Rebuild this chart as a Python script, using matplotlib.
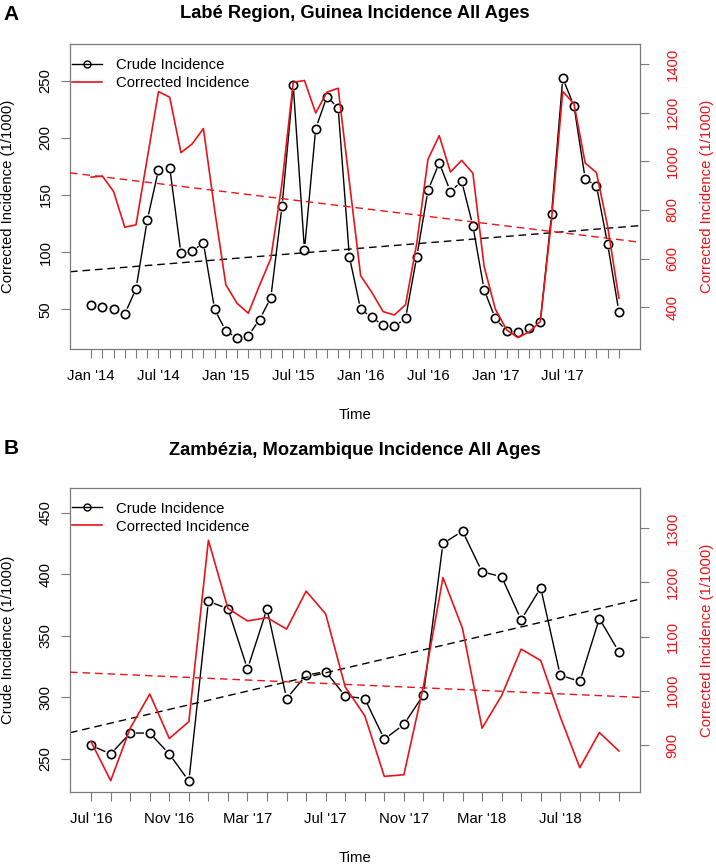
import numpy as np
import matplotlib
matplotlib.use("Agg")
import matplotlib.pyplot as plt
from matplotlib.lines import Line2D

plt.rcParams['font.family'] = ['Liberation Sans', 'DejaVu Sans']

# Panel A: Labe Region, Guinea (monthly, Jan 2014 - Dec 2017)
crude_a = [54, 52, 50, 46, 68, 128, 172, 174, 99, 101, 108, 50,
           31, 25, 27, 41, 60, 140, 246, 102, 208, 236, 226, 96,
           50, 43, 36, 35, 42, 96, 154, 178, 153, 162, 123, 67,
           42, 31, 30, 34, 39, 133, 252, 228, 164, 158, 107, 48]
corrected_a = [935, 940, 876, 729, 739, 1013, 1287, 1264, 1036, 1072, 1135, 800,
               492, 416, 375, 490, 600, 910, 1325, 1333, 1199, 1285, 1301, 915,
               530, 461, 382, 368, 410, 663, 1009, 1106, 956, 1004, 951, 567,
               392, 307, 275, 298, 341, 759, 1288, 1237, 993, 954, 732, 437]
labels_a = ["Jan '14", "Jul '14", "Jan '15", "Jul '15",
            "Jan '16", "Jul '16", "Jan '17", "Jul '17"]

# Panel B: Zambezia, Mozambique (monthly, Jul 2016 - Oct 2018)
crude_b = [261, 254, 271, 271, 254, 232, 378, 372, 323, 372, 299, 318, 321, 301,
           299, 266, 278, 302, 425, 435, 402, 398, 363, 389, 318, 313, 364, 337]
corrected_b = [906, 834, 931, 994, 912, 943, 1278, 1152, 1129, 1135, 1114, 1184, 1142, 1007,
               954, 842, 845, 1008, 1209, 1115, 931, 991, 1077, 1056, 952, 858, 923, 889]
labels_b = ["Jul '16", "Nov '16", "Mar '17", "Jul '17", "Nov '17", "Mar '18", "Jul '18"]

RED = '#e8141a'
GREY = '#7a7a7a'
FS = 10.7
W, H = 716, 864

fig = plt.figure(figsize=(W / 100, H / 100), dpi=100)


def type_b(ax, x, y, gap=6.5, **kw):
    # R style type="b": points joined by lines that stop short of the points
    pts = ax.transData.transform(np.column_stack([x, y]))
    inv = ax.transData.inverted()
    xs, ys = [], []
    for p0, p1 in zip(pts[:-1], pts[1:]):
        d = p1 - p0
        L = np.hypot(*d)
        if L <= 2 * gap:
            continue
        a = inv.transform(p0 + d / L * gap)
        b = inv.transform(p1 - d / L * gap)
        xs += [a[0], b[0], np.nan]
        ys += [a[1], b[1], np.nan]
    ax.plot(xs, ys, color='black', lw=1.0, **kw)
    ax.plot(x, y, 'o', mfc='none', mec='black', mew=1.2, ms=6)


def panel(top, bottom, crude, corr, step, labels, ylim_l, ylim_r, yt_l, yt_r,
          title, letter, letter_y, title_y, time_y, left_label):
    ax = fig.add_axes([70 / W, 1 - bottom / H, 570 / W, (bottom - top) / H])
    n = len(crude)
    x = np.arange(n)
    xlim = (-0.04 * (n - 1), 1.04 * (n - 1))
    ax.set_xlim(xlim)
    ax.set_ylim(ylim_l)
    ax2 = ax.twinx()
    ax2.set_ylim(ylim_r)
    ax2.set_xlim(xlim)

    type_b(ax, x, crude)
    xx = np.array(xlim)
    k, c = np.polyfit(x, crude, 1)
    ax.plot(xx, k * xx + c, color='black', lw=1.0, dashes=(5.5, 3.5))

    ax2.plot(x, corr, color=RED, lw=1.2)
    k2, c2 = np.polyfit(x, corr, 1)
    ax2.plot(xx, k2 * xx + c2, color=RED, lw=1.0, dashes=(5.5, 3.5))

    for s in ax.spines.values():
        s.set_color(GREY)
        s.set_linewidth(0.9)
    for s in ax2.spines.values():
        s.set_visible(False)

    ax.set_xticks(x, minor=False)
    ax.set_xticklabels([labels[i // step] if i % step == 0 else '' for i in x])
    ax.tick_params(axis='x', length=6.5, width=0.8, color=GREY, pad=8, labelsize=FS)
    ax.set_yticks(yt_l)
    ax.tick_params(axis='y', length=6.5, width=0.8, color=GREY, pad=6, labelsize=FS,
                   labelrotation=90)
    for t in ax.get_yticklabels():
        t.set_va('center')
    ax2.set_yticks(yt_r)
    ax2.tick_params(axis='y', length=6.5, width=0.8, color=GREY, pad=12, labelsize=FS,
                    labelrotation=90, labelcolor=RED)
    for t in ax2.get_yticklabels():
        t.set_va('center')

    handles = [Line2D([], [], color='black', lw=1.0, marker='o', mfc='none', mew=1.0, ms=5),
               Line2D([], [], color=RED, lw=1.2)]
    ax2.legend(handles, ['Crude Incidence', 'Corrected Incidence'], loc='upper left',
               bbox_to_anchor=(2 / 570, 1 - 14 / (bottom - top)), frameon=False,
               borderaxespad=0, borderpad=0, handlelength=2.0, handletextpad=0.95,
               labelspacing=0.26, fontsize=FS)

    mid = 1 - (top + bottom) / 2 / H
    fig.text(8 / W, mid, left_label, rotation=90, ha='center', va='center', fontsize=FS)
    fig.text(707 / W, mid, 'Corrected Incidence (1/1000)', rotation=90, ha='center',
             va='center', fontsize=FS, color=RED)
    fig.text(355 / W, 1 - time_y / H, 'Time', ha='center', va='center', fontsize=FS)
    fig.text(355 / W, 1 - title_y / H, title, ha='center', va='center',
             fontsize=13.2, fontweight='bold')
    fig.text(11 / W, 1 - letter_y / H, letter, ha='center', va='center',
             fontsize=15, fontweight='bold')


panel(44, 349, crude_a, corrected_a, 6, labels_a, (15.3, 282), (228, 1483),
      [50, 100, 150, 200, 250], [400, 600, 800, 1000, 1200, 1400],
      'Labé Region, Guinea Incidence All Ages', 'A', 14, 13, 415,
      'Corrected Incidence (1/1000)')
panel(487.7, 792.3, crude_b, corrected_b, 4, labels_b, (222.9, 470.3), (812.6, 1375),
      [250, 300, 350, 400, 450], [900, 1000, 1100, 1200, 1300],
      'Zambézia, Mozambique Incidence All Ages', 'B', 448, 451, 858,
      'Crude Incidence (1/1000)')

fig.savefig('out.png', dpi=100)
